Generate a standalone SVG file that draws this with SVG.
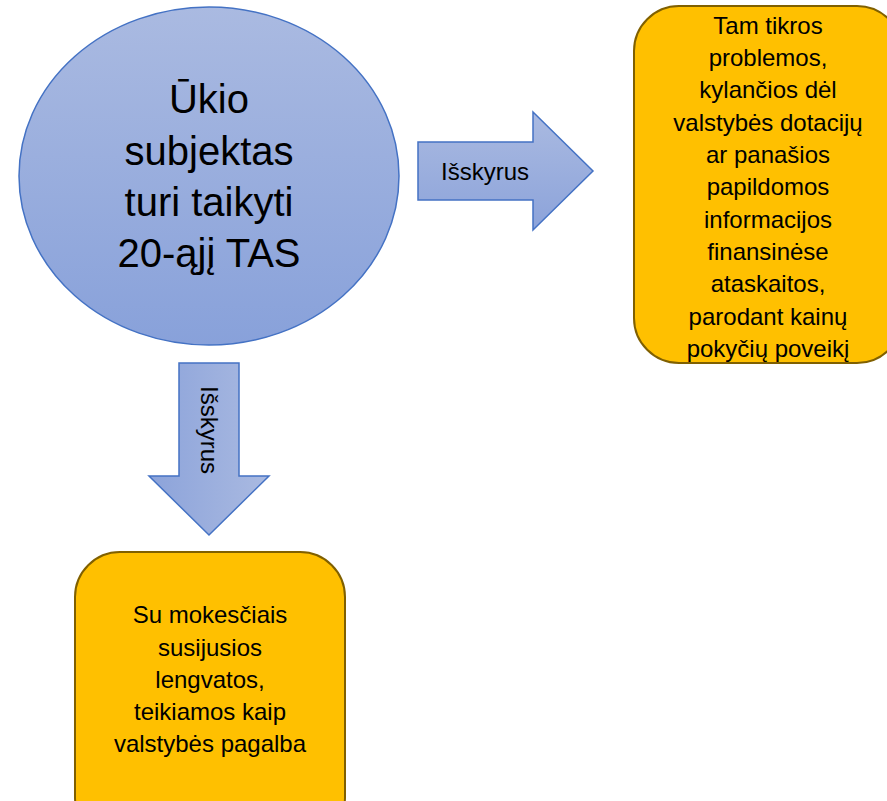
<svg xmlns="http://www.w3.org/2000/svg" width="887" height="801" viewBox="0 0 887 801">
<defs>
<linearGradient id="gBlue" x1="0" y1="0" x2="0" y2="1">
<stop offset="0" stop-color="#AABAE1"/>
<stop offset="1" stop-color="#88A1DA"/>
</linearGradient>
<linearGradient id="gArrowR" x1="0" y1="0" x2="0" y2="1">
<stop offset="0" stop-color="#AABAE1"/>
<stop offset="1" stop-color="#8CA3DA"/>
</linearGradient>
<linearGradient id="gArrowD" x1="1" y1="0" x2="0" y2="0">
<stop offset="0" stop-color="#AABAE1"/>
<stop offset="1" stop-color="#8CA3DA"/>
</linearGradient>
<style>
.blue{stroke:#4472C4;stroke-width:1.5}
.box{fill:#FFC000;stroke:#806000;stroke-width:2}
text{font-family:"Liberation Sans",Arial,sans-serif;fill:#000;text-anchor:middle}
.big{font-size:40px}
.mid{font-size:24px}
</style>
</defs>
<g id="connectors">
<g id="arrow-right">
<path class="blue" fill="url(#gArrowR)" d="M418,142 H533 V112 L593,171 L533,230 V200 H418 Z"/>
<text class="mid" x="485" y="180">Išskyrus</text>
</g>
<g id="arrow-down">
<path class="blue" fill="url(#gArrowD)" d="M179,363 H239 V476 H269 L209,535 L149,476 H179 Z"/>
<text class="mid" transform="translate(209,430) rotate(90)" y="8.5">Išskyrus</text>
</g>
</g>
<g id="node-main">
<ellipse class="blue" fill="url(#gBlue)" cx="209" cy="176" rx="190" ry="169"/>
<text class="big" x="209" y="113">Ūkio</text>
<text class="big" x="209" y="165">subjektas</text>
<text class="big" x="209" y="216">turi taikyti</text>
<text class="big" x="209" y="267">20-ąjį TAS</text>
</g>
<g id="node-right">
<rect class="box" x="634" y="6" width="268" height="357" rx="45" ry="45"/>
<text class="mid" x="768" y="34">Tam tikros</text>
<text class="mid" x="768" y="66">problemos,</text>
<text class="mid" x="768" y="98">kylančios dėl</text>
<text class="mid" x="768" y="131">valstybės dotacijų</text>
<text class="mid" x="768" y="163">ar panašios</text>
<text class="mid" x="768" y="195">papildomos</text>
<text class="mid" x="768" y="228">informacijos</text>
<text class="mid" x="768" y="260">finansinėse</text>
<text class="mid" x="768" y="292">ataskaitos,</text>
<text class="mid" x="768" y="325">parodant kainų</text>
<text class="mid" x="768" y="357">pokyčių poveikį</text>
</g>
<g id="node-bottom">
<rect class="box" x="75" y="552" width="270" height="290" rx="45" ry="45"/>
<text class="mid" x="210" y="623">Su mokesčiais</text>
<text class="mid" x="210" y="656">susijusios</text>
<text class="mid" x="210" y="688">lengvatos,</text>
<text class="mid" x="210" y="720">teikiamos kaip</text>
<text class="mid" x="210" y="752">valstybės pagalba</text>
</g>
</svg>
